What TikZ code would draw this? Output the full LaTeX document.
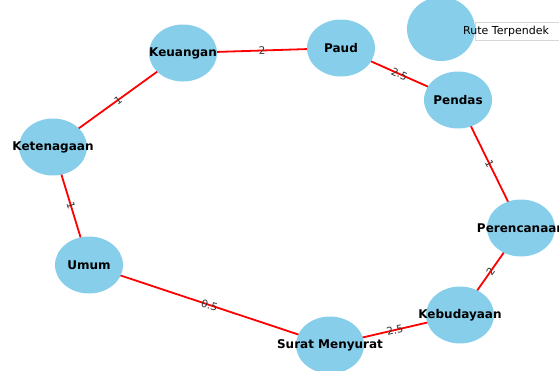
\documentclass[tikz,border=0pt]{standalone}
\usepackage{fontspec}
\setmainfont{DejaVu Sans}
\usetikzlibrary{shapes.geometric}
\pgfdeclarelayer{background}
\pgfsetlayers{background,main}
\definecolor{skyblue}{HTML}{87CEEB}
\definecolor{framegray}{HTML}{D6D6D6}
\tikzset{
  x=1pt, y=-1pt,
  city/.style={ellipse, fill=skyblue, minimum width=68pt, minimum height=57pt,
    inner sep=0pt, font=\fontsize{12}{12}\selectfont\bfseries},
  route/.style={red, line width=1.8pt},
  weight/.style={midway, sloped, inner sep=1pt, text=black!80,
    font=\fontsize{10.5}{10.5}\selectfont},
}
\newcommand{\cname}[1]{\makebox[0pt]{#1}}
\begin{document}
\begin{tikzpicture}
\useasboundingbox (0,0) rectangle (559,370);
\clip (0,0) rectangle (559,370);

% stations
\node[city] (keu) at (183,53) {\cname{Keuangan}};
\node[city] (paud) at (341,48) {\cname{Paud}};
\node[city] (pend) at (458,100) {\cname{Pendas}};
\node[city] (ren) at (521,228) {\cname{Perencanaan}};
\node[city] (bud) at (460,315) {\cname{Kebudayaan}};
\node[city] (srt) at (330,345) {\cname{Surat Menyurat}};
\node[city] (umum) at (89,265) {\cname{Umum}};
\node[city] (ten) at (53,147) {\cname{Ketenagaan}};

% weighted route
\begin{pgfonlayer}{background}
\draw[route] (keu.center) -- node[weight] {2} (paud.center);
\draw[route] (paud.center) -- node[weight] {2.5} (pend.center);
\draw[route] (pend.center) -- node[weight] {1} (ren.center);
\draw[route] (ren.center) -- node[weight] {2} (bud.center);
\draw[route] (bud.center) -- node[weight] {2.5} (srt.center);
\draw[route] (srt.center) -- node[weight] {0.5} (umum.center);
\draw[route] (umum.center) -- node[weight] {1} (ten.center);
\draw[route] (ten.center) -- node[weight] {1} (keu.center);
\end{pgfonlayer}

% legend
\node[draw=framegray, fill=white, line width=0.8pt, minimum width=120pt,
  minimum height=18pt, anchor=west, inner sep=0pt] (legbox) at (475,31) {};
\node[ellipse, fill=skyblue, minimum width=68pt, minimum height=64pt,
  inner sep=0pt] (legmark) at (441,29) {};
\node[anchor=west, inner sep=0pt, font=\fontsize{11}{11}\selectfont]
  (legtext) at (463,31) {Rute Terpendek};
\end{tikzpicture}
\end{document}
